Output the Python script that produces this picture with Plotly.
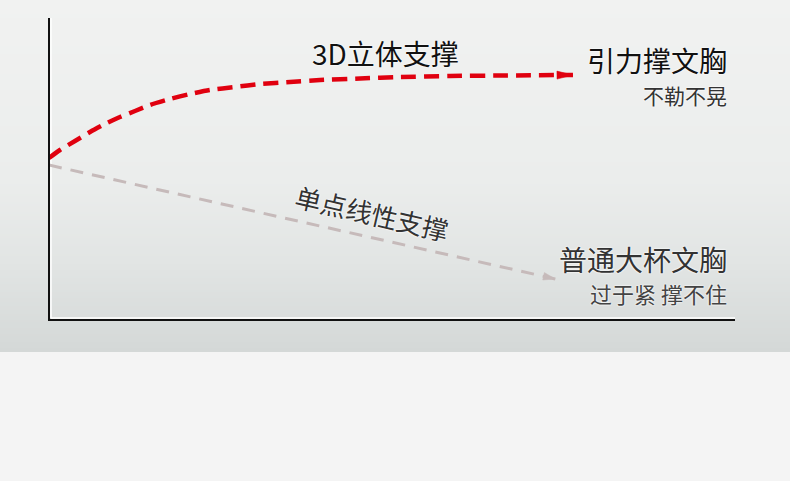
import plotly.graph_objects as go

# ---- data ----
red_x = [0, 1.60, 3.79, 5.98, 8.16, 10.35, 12.54, 14.72, 17.64, 20.55, 23.47, 27.11,
         30.76, 35.13, 39.50, 45.34, 51.17, 58.45, 65.74, 76.38]
red_y = [53.64, 56.29, 59.27, 62.25, 64.90, 67.22, 69.21, 71.19, 73.18, 74.83, 76.16, 77.15,
         78.15, 78.81, 79.47, 79.97, 80.46, 80.79, 80.96, 81.13]
gray_x = [0, 73.8]
gray_y = [51.3, 13.6]

label_red = "3D立体支撑"
label_gray = "单点线性支撑"
title_red = "引力撑文胸"
sub_red = "不勒不晃"
title_gray = "普通大杯文胸"
sub_gray = "过于紧 撑不住"

W, H = 790, 481
FONT = "Noto Sans CJK SC"
RED = "#e0000f"
GRAY = "#c6baba"

# plot-area geometry (pixels)
PX_L, PX_R, PX_T, PX_B = 49, 735, 18, 320

def to_px(x, y):
    return PX_L + x / 100 * (PX_R - PX_L), PX_B - y / 100 * (PX_B - PX_T)

def to_data(px, py):
    return (px - PX_L) / (PX_R - PX_L) * 100, (PX_B - py) / (PX_B - PX_T) * 100

def arrow_head(xs, ys, length, half):
    tx, ty = to_px(xs[-1], ys[-1])
    bx, by = to_px(xs[-2], ys[-2])
    dx, dy = tx - bx, ty - by
    n = (dx * dx + dy * dy) ** 0.5
    ux, uy = dx / n, dy / n
    cx, cy = tx - ux * length, ty - uy * length
    pts = [(tx, ty), (cx - uy * half, cy + ux * half), (cx + uy * half, cy - ux * half), (tx, ty)]
    d = [to_data(p, q) for p, q in pts]
    return [a for a, _ in d], [b for _, b in d]

fig = go.Figure()

fig.add_trace(go.Scatter(
    x=gray_x, y=gray_y, mode="lines",
    line=dict(color=GRAY, width=3, dash="13px,9px"),
    hoverinfo="skip", showlegend=False))
hx, hy = arrow_head(gray_x, gray_y, 12, 3.8)
fig.add_trace(go.Scatter(x=hx, y=hy, mode="lines", fill="toself", fillcolor=GRAY,
                         line=dict(color=GRAY, width=0.5), hoverinfo="skip", showlegend=False))

fig.add_trace(go.Scatter(
    x=red_x, y=red_y, mode="lines",
    line=dict(color=RED, width=4.5, dash="15px,8px", shape="spline", smoothing=0.6),
    hoverinfo="skip", showlegend=False))
hx, hy = arrow_head(red_x, red_y, 16, 4)
fig.add_trace(go.Scatter(x=hx, y=hy, mode="lines", fill="toself", fillcolor=RED,
                         line=dict(color=RED, width=0.5), hoverinfo="skip", showlegend=False))

# background gradient bands
stops = [(0, (241, 242, 241)), (180, (235, 237, 236)), (260, (226, 229, 228)), (352, (212, 216, 215))]
def col(y):
    for (y0, c0), (y1, c1) in zip(stops[:-1], stops[1:]):
        if y0 <= y <= y1:
            t = (y - y0) / (y1 - y0)
            return "rgb(%d,%d,%d)" % tuple(round(a + (b - a) * t) for a, b in zip(c0, c1))
    return "rgb(212,216,215)"

shapes = []
for yy in range(0, 352, 2):
    shapes.append(dict(type="rect", xref="paper", yref="paper", x0=0, x1=1,
                       y0=1 - (yy + 2) / H, y1=1 - yy / H, fillcolor=col(yy + 1),
                       line=dict(width=0), layer="below"))

x_left = PX_L / W
x_right = PX_R / W
y_bot = 1 - PX_B / H
y_top = 1 - PX_T / H
shapes.append(dict(type="line", xref="paper", yref="paper", x0=x_left + 2 / W, x1=x_left + 2 / W,
                   y0=y_bot + 2 / H, y1=y_top, line=dict(color="white", width=1.5), layer="below"))
shapes.append(dict(type="line", xref="paper", yref="paper", x0=x_left + 2 / W, x1=x_right,
                   y0=y_bot + 2 / H, y1=y_bot + 2 / H, line=dict(color="white", width=1.5), layer="below"))
shapes.append(dict(type="line", xref="paper", yref="paper", x0=x_left, x1=x_left,
                   y0=y_bot, y1=y_top, line=dict(color="#111111", width=2)))
shapes.append(dict(type="line", xref="paper", yref="paper", x0=x_left - 1 / W, x1=x_right,
                   y0=y_bot, y1=y_bot, line=dict(color="#111111", width=2)))

halo = "0px 0px 2px white, 0px 0px 2px white"
def ann(text, px, py, size, color, xanchor="center", angle=0):
    return dict(text=text, x=px / W, y=1 - py / H, xref="paper", yref="paper",
                xanchor=xanchor, yanchor="middle", showarrow=False, textangle=angle,
                font=dict(family=FONT, size=size, color=color, shadow=halo))

annotations = [
    ann(label_red, 385, 53, 28, "#111111"),
    ann(title_red, 729, 60, 28, "#111111", "right"),
    ann(sub_red, 729, 95, 21, "#333333", "right"),
    ann(title_gray, 729, 259, 28, "#333333", "right"),
    ann(sub_gray, 729, 293, 22, "#444444", "right"),
    ann(label_gray, 372, 213, 26, "#333333", "center", 13),
]

fig.update_layout(
    width=W, height=H, margin=dict(l=0, r=0, t=0, b=0),
    paper_bgcolor="#f4f4f4", plot_bgcolor="rgba(0,0,0,0)",
    shapes=shapes, annotations=annotations,
    xaxis=dict(domain=[x_left, x_right], range=[0, 100], visible=False, fixedrange=True),
    yaxis=dict(domain=[y_bot, y_top], range=[0, 100], visible=False, fixedrange=True),
)

fig.write_html("out.html", config={"displayModeBar": False},
               post_script="document.body.style.margin='0';")
